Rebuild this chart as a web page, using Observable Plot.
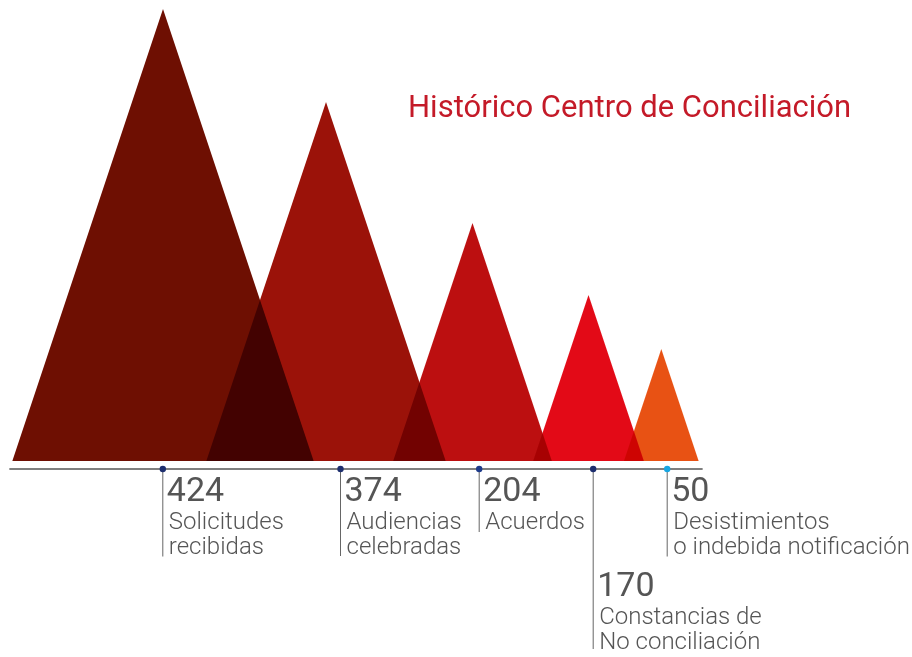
<!DOCTYPE html>
<html>
<head>
<meta charset="utf-8">
<script src="https://cdn.jsdelivr.net/npm/d3@7"></script>
<script src="https://cdn.jsdelivr.net/npm/@observablehq/plot@0.6"></script>
<style>
  html, body { margin: 0; padding: 0; background: #fff; }
  #wrap { position: relative; width: 912px; height: 657px; }
  #title { position: absolute; left: 408px; top: 92px; margin: 0; font: 400 31px/30px Roboto, sans-serif; color: #c41a28; white-space: nowrap; }
</style>
</head>
<body>
<div id="wrap">
  <div id="chart"></div>
  <h1 id="title">Histórico Centro de Conciliación</h1>
</div>
<script>
// --- data ---
const categories = ["Solicitudes\nrecibidas", "Audiencias\ncelebradas", "Acuerdos", "Constancias de\nNo conciliación", "Desistimientos\no indebida notificación"];
const values = [424, 374, 204, 170, 50];
const triangleColors = ["#6e0f02", "#9b1209", "#bc0f10", "#e30a17", "#e85214"];
const markerColors = ["#1d2e6e", "#1d2e6e", "#1d3a8a", "#1d2e6e", "#18a6e2"];

// --- layout (chart units = px of the original graphic) ---
const peakX = [163, 326, 472.5, 588.5, 661.3];
const peakHeight = [452, 359, 238, 166, 112];
const markerX = [162.3, 340, 478.7, 592.7, 666.7];
const stemEnd = [-95.5, -95, -71, -188, -95.5];
const labelDrop = [0, 0, 0, 95, 0];
const axisLevel = -7.5;

const rows = categories.map((c, i) => ({
  category: c, value: values[i], color: triangleColors[i], marker: markerColors[i],
  peak: peakX[i], h: peakHeight[i], mx: markerX[i], stem: stemEnd[i], drop: labelDrop[i]
}));

const triangleMarks = rows.map(r => {
  const half = r.h / 3;
  const pts = [{x: r.peak - half, y: 0}, {x: r.peak, y: r.h}, {x: r.peak + half, y: 0}];
  return Plot.areaY(pts, {x: "x", y: "y", fill: r.color, curve: "linear", mixBlendMode: "multiply"});
});

const xMin = d3.min(rows, r => r.peak - r.h / 3) - 3;
const xMax = d3.max(rows, r => r.peak + r.h / 3) + 4;

const chart = Plot.plot({
  width: 912,
  height: 657,
  margin: 0,
  x: {domain: [0, 912], axis: null},
  y: {domain: [-196, 461], axis: null},
  style: {background: "transparent"},
  marks: [
    ...triangleMarks,
    Plot.ruleY([axisLevel], {x1: xMin, x2: xMax, stroke: "#555", strokeWidth: 1.4}),
    Plot.ruleX(rows, {x: "mx", y1: axisLevel, y2: "stem", stroke: "#666", strokeWidth: 1}),
    Plot.dot(rows, {x: "mx", y: axisLevel, r: 3.2, fill: "marker", stroke: null}),
    Plot.text(rows, {x: "mx", y: r => -15.5 - r.drop, text: r => String(r.value), dx: 4, textAnchor: "start", lineAnchor: "top", fontSize: 34, fontWeight: 400, fill: "#555", fontFamily: "Roboto, sans-serif"}),
    Plot.text(rows, {x: "mx", y: r => -50.5 - r.drop, text: "category", dx: 6, textAnchor: "start", lineAnchor: "top", fontSize: 24, fontWeight: 300, lineHeight: 1.02, fill: "#555", fontFamily: "Roboto, sans-serif"})
  ]
});
document.getElementById("chart").appendChild(chart);
</script>
</body>
</html>
